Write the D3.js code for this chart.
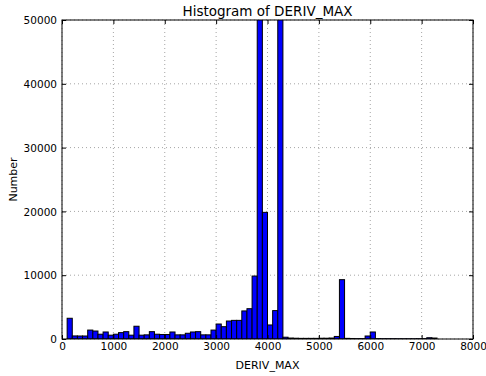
<!DOCTYPE html>
<html>
<head>
<meta charset="utf-8">
<script src="https://cdn.jsdelivr.net/npm/d3@7"></script>
<style>
  body { margin: 0; background: #fff; }
  text { font-family: "DejaVu Sans", sans-serif; fill: #000; }
</style>
</head>
<body>
<svg id="chart" width="486" height="376"></svg>
<script>
// bin edges are every 100 from 0 to 8000
const binStart = 0;
const binWidth = 100;
const counts = [
  0, 3250, 480, 470, 470, 1400, 1250, 750, 1100, 600,
  750, 1000, 1150, 600, 2000, 600, 650, 1150, 750, 700,
  700, 1100, 650, 650, 900, 1100, 1150, 650, 650, 1400,
  2350, 1930, 2820, 2920, 2920, 4400, 4750, 9870, 62000, 19850,
  2200, 4450, 71000, 280, 150, 120, 100, 100, 100, 100,
  120, 120, 150, 400, 9300, 100, 80, 60, 60, 470,
  1100, 60, 50, 50, 50, 40, 40, 40, 40, 50,
  60, 200, 150, 0, 0, 0, 0, 0, 0, 0
];
const xTicks = [0, 1000, 2000, 3000, 4000, 5000, 6000, 7000, 8000];
const yTicks = [0, 10000, 20000, 30000, 40000, 50000];

const margin = {top: 20, right: 13, bottom: 37, left: 62};
const width = 486 - margin.left - margin.right;
const height = 376 - margin.top - margin.bottom;

const svg = d3.select("#chart");
const g = svg.append("g")
    .attr("transform", `translate(${margin.left},${margin.top})`);

const x = d3.scaleLinear().domain([0, 8000]).range([0, width]);
const y = d3.scaleLinear().domain([0, 50000]).range([height, 0]);

g.append("clipPath").attr("id", "clip")
  .append("rect").attr("width", width).attr("height", height);

// grid
g.selectAll(".gx").data(xTicks).enter().append("line")
    .attr("x1", d => x(d)).attr("x2", d => x(d))
    .attr("y1", 0).attr("y2", height)
    .attr("stroke", "#000").attr("stroke-opacity", 0.45)
    .attr("stroke-width", 0.8).attr("stroke-dasharray", "1,3");
g.selectAll(".gy").data(yTicks).enter().append("line")
    .attr("x1", 0).attr("x2", width)
    .attr("y1", d => y(d)).attr("y2", d => y(d))
    .attr("stroke", "#000").attr("stroke-opacity", 0.45)
    .attr("stroke-width", 0.8).attr("stroke-dasharray", "1,3");

// bars
const bins = counts.map((c, i) => ({x0: binStart + i * binWidth, x1: binStart + (i + 1) * binWidth, n: c}))
    .filter(d => d.n > 0);
g.append("g").attr("clip-path", "url(#clip)")
  .selectAll("rect").data(bins).enter().append("rect")
    .attr("x", d => x(d.x0))
    .attr("y", d => y(d.n))
    .attr("width", d => x(d.x1) - x(d.x0))
    .attr("height", d => height - y(d.n))
    .attr("fill", "#0000ff")
    .attr("stroke", "#000")
    .attr("stroke-width", 1);

// frame
g.append("rect").attr("width", width).attr("height", height)
    .attr("fill", "none").attr("stroke", "#000").attr("stroke-width", 1);

// axes with inward ticks
const fmt = d3.format("d");
const xAxis = g.append("g").attr("transform", `translate(0,${height})`)
    .call(d3.axisBottom(x).tickValues(xTicks).tickFormat(fmt).tickSizeInner(-4).tickSizeOuter(0).tickPadding(4));
const xTop = g.append("g")
    .call(d3.axisTop(x).tickValues(xTicks).tickSizeInner(-4).tickSizeOuter(0).tickFormat(""));
const yAxis = g.append("g")
    .call(d3.axisLeft(y).tickValues(yTicks).tickFormat(fmt).tickSizeInner(-4).tickSizeOuter(0).tickPadding(5));
const yRight = g.append("g").attr("transform", `translate(${width},0)`)
    .call(d3.axisRight(y).tickValues(yTicks).tickSizeInner(-4).tickSizeOuter(0).tickFormat(""));
[xAxis, xTop, yAxis, yRight].forEach(a => {
  a.select(".domain").remove();
  a.selectAll("line").attr("stroke", "#000");
  a.selectAll("text").attr("font-size", 10.5).attr("font-family", "DejaVu Sans, sans-serif");
});
yAxis.selectAll("text").attr("dy", "0.35em");

// labels
svg.append("text").attr("x", margin.left + width / 2).attr("y", 16)
    .attr("text-anchor", "middle").attr("font-size", 13.5).text("Histogram of DERIV_MAX");
svg.append("text").attr("x", margin.left + width / 2).attr("y", 369)
    .attr("text-anchor", "middle").attr("font-size", 11).text("DERIV_MAX");
svg.append("text").attr("transform", `translate(17,${margin.top + height / 2}) rotate(-90)`)
    .attr("text-anchor", "middle").attr("font-size", 11).text("Number");
</script>
</body>
</html>
